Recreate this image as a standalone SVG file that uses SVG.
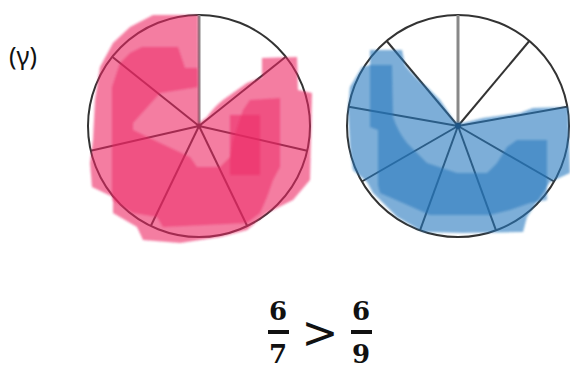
<svg xmlns="http://www.w3.org/2000/svg" width="570" height="370" viewBox="0 0 570 370">
<defs>
<style>
.rim{fill:none;stroke:#333;stroke-width:2}
.spoke{stroke:#333;stroke-width:2}
.vert{stroke:#888;stroke-width:3}
.pk{fill:rgb(236,40,100);stroke:none}
.bl{fill:rgb(40,120,190);stroke:none}
.lbl{font-family:"Noto Sans","DejaVu Sans",sans-serif;font-size:25px;fill:#111}
.num{font-family:"DejaVu Serif","Liberation Serif",serif;font-weight:bold;font-size:26px;fill:#111;text-anchor:middle}
.bar{stroke:#111;stroke-width:4}
</style>
<filter id="soft" x="-5%" y="-5%" width="110%" height="110%"><feGaussianBlur stdDeviation="0.8"/></filter>
</defs>
<rect width="570" height="370" fill="#fff"/>
<text class="lbl" x="9" y="65">(γ)</text>

<g id="circle7">
<circle class="rim" cx="199" cy="126" r="111"/>
<line class="vert" x1="199" y1="126" x2="199" y2="15"/>
<line class="spoke" x1="199" y1="126" x2="285.8" y2="56.8"/>
<line class="spoke" x1="199" y1="126" x2="307.2" y2="150.7"/>
<line class="spoke" x1="199" y1="126" x2="247.2" y2="226"/>
<line class="spoke" x1="199" y1="126" x2="150.8" y2="226"/>
<line class="spoke" x1="199" y1="126" x2="90.8" y2="150.7"/>
<line class="spoke" x1="199" y1="126" x2="112.2" y2="56.8"/>
<circle cx="199" cy="126" r="2.5" fill="#333"/>
<g filter="url(#soft)">
<path class="pk" fill-opacity="0.6" d="M153,15 L198,15 L199,123 L207,117 Q215,106 223,100 L247,83 L262,77 L262,58 L297,57 L298,90 L312,93 L310,180 L293,200 L267,213 L247,230 L220,237 L180,243 L143,240 L137,227 L113,213 L113,197 L92,187 L90,163 L93,140 L95,100 L100,67 L113,43 L130,27 Z"/>
<path class="pk" fill-opacity="0.5" d="M142,47 L178,47 L185,68 L198,68 L198,87 L160,93 L133,123 L133,130 L160,143 L190,157 L197,167 L220,167 L230,157 L233,140 L243,110 L250,100 L280,98 L280,167 L273,180 L267,197 L260,213 L247,223 L163,227 L157,217 L133,213 L112,200 L112,87 L120,63 L130,53 Z"/>
<rect x="230" y="115" width="30" height="60" fill="rgb(236,40,100)" fill-opacity="0.55"/>
</g>
</g>

<g id="circle9">
<circle class="rim" cx="458" cy="126" r="111"/>
<line class="vert" x1="458" y1="126" x2="458" y2="15"/>
<line class="spoke" x1="458" y1="126" x2="529.3" y2="41"/>
<line class="spoke" x1="458" y1="126" x2="567.3" y2="106.7"/>
<line class="spoke" x1="458" y1="126" x2="554.1" y2="181.5"/>
<line class="spoke" x1="458" y1="126" x2="496" y2="230.3"/>
<line class="spoke" x1="458" y1="126" x2="420" y2="230.3"/>
<line class="spoke" x1="458" y1="126" x2="361.9" y2="181.5"/>
<line class="spoke" x1="458" y1="126" x2="348.7" y2="106.7"/>
<line class="spoke" x1="458" y1="126" x2="386.7" y2="41"/>
<circle cx="458" cy="126" r="3" fill="#123"/>
<g filter="url(#soft)">
<path class="bl" fill-opacity="0.6" d="M370,50 L402,50 L405,65 Q415,78 427,87 L440,100 L455,122 L463,123 L483,118 L520,113 L533,108 L568,107 L570,173 L550,182 L543,193 L527,217 L523,232 L463,233 L423,232 L397,217 L373,193 L367,182 L353,170 L350,147 L348,110 L350,87 L362,67 L370,65 Z"/>
<path class="bl" fill-opacity="0.55" d="M370,65 L392,65 L393,117 Q398,132 407,143 L427,163 L457,173 L487,173 L497,163 L507,147 L517,140 L547,140 L547,200 L530,203 L510,210 L490,215 L430,215 L403,203 L380,193 L378,185 L378,130 L370,127 Z"/>
</g>
</g>

<g id="inequality">
<text class="num" x="278" y="320">6</text>
<line class="bar" x1="268" y1="332" x2="289" y2="332"/>
<text class="num" x="278" y="363">7</text>
<text x="320" y="348" font-family="DejaVu Sans,sans-serif" font-size="44" text-anchor="middle" fill="#111">&gt;</text>
<text class="num" x="361" y="320">6</text>
<line class="bar" x1="351" y1="332" x2="372" y2="332"/>
<text class="num" x="361" y="363">9</text>
</g>
</svg>
